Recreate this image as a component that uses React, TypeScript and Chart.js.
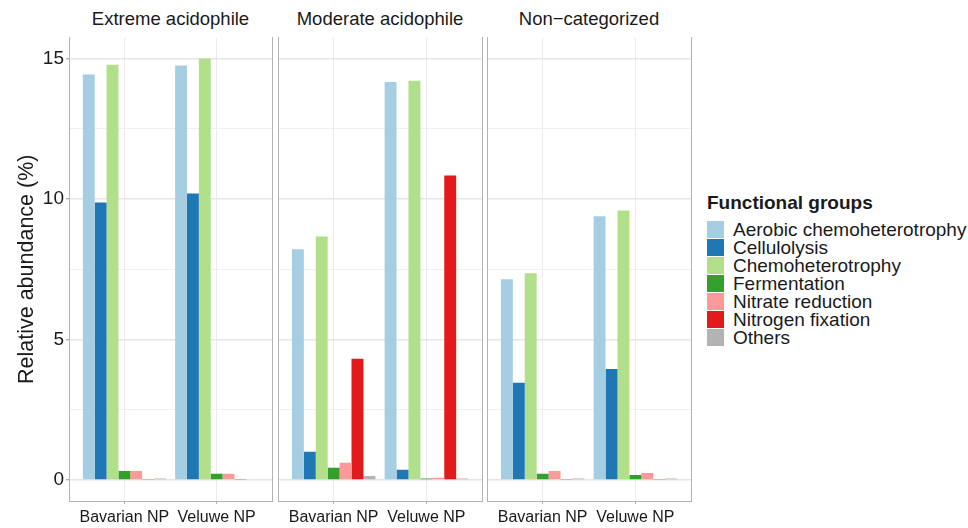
import React, { useEffect, useRef } from 'react';
import { Chart, registerables } from 'chart.js';

Chart.register(...registerables);

// ---------- data ----------
const sites = ['Bavarian NP', 'Veluwe NP'];
const panelTitles = ['Extreme acidophile', 'Moderate acidophile', 'Non\u2212categorized'];
const groups = [
  'Aerobic chemoheterotrophy',
  'Cellulolysis',
  'Chemoheterotrophy',
  'Fermentation',
  'Nitrate reduction',
  'Nitrogen fixation',
  'Others',
];
const groupColors = ['#A6CEE3', '#1F78B4', '#B2DF8A', '#33A02C', '#FB9A99', '#E31A1C', '#B3B3B3'];

// values in group order, per site
const extremeBavarian = [14.43, 9.88, 14.78, 0.32, 0.32, 0.03, 0.05];
const extremeVeluwe = [14.75, 10.2, 15.0, 0.22, 0.22, 0.03, 0.02];
const moderateBavarian = [8.21, 1.0, 8.67, 0.43, 0.61, 4.31, 0.14];
const moderateVeluwe = [14.17, 0.36, 14.21, 0.05, 0.08, 10.84, 0.05];
const noncatBavarian = [7.14, 3.46, 7.36, 0.22, 0.32, 0.03, 0.05];
const noncatVeluwe = [9.39, 3.95, 9.59, 0.18, 0.25, 0.03, 0.05];

const yMajorTicks = [0, 5, 10, 15];
const yMinorTicks = [2.5, 7.5, 12.5];
const yMin = -0.75;
const yMax = 15.75;

// ---------- styling ----------
const FONT = "'Liberation Sans', Arial, Helvetica, sans-serif";
const TEXT = '#1a1a1a';
const BORDER = '#b3b3b3';

const panelsLayout = [
  { canvasLeft: 0, canvasWidth: 276, plotLeft: 69, plotWidth: 203, showY: true },
  { canvasLeft: 274, canvasWidth: 212, plotLeft: 278, plotWidth: 204, showY: false },
  { canvasLeft: 483, canvasWidth: 212, plotLeft: 487, plotWidth: 204, showY: false },
];

const panelData = [
  [extremeBavarian, extremeVeluwe],
  [moderateBavarian, moderateVeluwe],
  [noncatBavarian, noncatVeluwe],
];

function isMajor(v: number) {
  return yMajorTicks.some((t) => Math.abs(t - v) < 1e-6);
}

function makeConfig(bav: number[], vel: number[], showY: boolean): any {
  const allYTicks = [...yMajorTicks, ...yMinorTicks].sort((a, b) => a - b);
  return {
    type: 'bar',
    data: {
      datasets: groups.map((g, i) => ({
        label: g,
        data: [
          { x: 1, y: bav[i] },
          { x: 2, y: vel[i] },
        ],
        backgroundColor: groupColors[i],
        borderWidth: 0,
        barPercentage: 1,
        categoryPercentage: 0.9,
      })),
    },
    options: {
      responsive: false,
      animation: false,
      devicePixelRatio: 1,
      layout: { padding: { top: 37.5, left: showY ? 0 : 4, right: 4, bottom: 0 } },
      plugins: {
        legend: { display: false },
        tooltip: { enabled: false },
        title: { display: false },
      },
      scales: {
        x: {
          type: 'linear',
          min: 0.4,
          max: 2.6,
          offset: false,
          afterBuildTicks: (s: any) => {
            s.ticks = sites.map((_, i) => ({ value: i + 1 }));
          },
          afterFit: (s: any) => {
            s.height = 27;
          },
          ticks: {
            callback: (v: any) => sites[Math.round(Number(v)) - 1] ?? '',
            font: { family: FONT, size: 16 },
            color: TEXT,
            padding: 4,
            maxRotation: 0,
            autoSkip: false,
          },
          grid: {
            offset: false,
            color: '#ebebeb',
            lineWidth: 1,
            tickLength: 3,
            tickColor: BORDER,
            drawTicks: true,
          },
          border: { display: true, color: BORDER, width: 1 },
        },
        y: {
          type: 'linear',
          position: 'left',
          min: yMin,
          max: yMax,
          afterBuildTicks: (s: any) => {
            s.ticks = allYTicks.map((v) => ({ value: v }));
          },
          afterFit: (s: any) => {
            s.width = showY ? 69 : 0;
          },
          title: {
            display: showY,
            text: 'Relative abundance (%)',
            font: { family: FONT, size: 21.5, lineHeight: 1 },
            color: TEXT,
            padding: { top: 16, bottom: 0 },
          },
          ticks: {
            display: showY,
            autoSkip: false,
            callback: (v: any) => (isMajor(Number(v)) ? String(v) : ''),
            font: { family: FONT, size: 19 },
            color: TEXT,
            padding: 2,
          },
          grid: {
            color: (c: any) => (isMajor(c.tick.value) ? '#e6e6e6' : '#f0f0f0'),
            lineWidth: (c: any) => (isMajor(c.tick.value) ? 1.4 : 1),
            drawTicks: showY,
            tickLength: 3,
            tickColor: (c: any) => (isMajor(c.tick.value) ? BORDER : 'rgba(0,0,0,0)'),
          },
          border: { display: true, color: BORDER, width: 1 },
        },
        yRight: {
          type: 'linear',
          position: 'right',
          min: yMin,
          max: yMax,
          display: true,
          afterFit: (s: any) => {
            s.width = 0;
          },
          ticks: { display: false },
          grid: { drawOnChartArea: false, drawTicks: false },
          border: { display: true, color: BORDER, width: 1 },
        },
      },
    },
  };
}

function Panel({ idx }: { idx: number }) {
  const ref = useRef<HTMLCanvasElement | null>(null);
  const lay = panelsLayout[idx];
  useEffect(() => {
    if (!ref.current) return;
    const [bav, vel] = panelData[idx];
    const chart = new Chart(ref.current, makeConfig(bav, vel, lay.showY));
    return () => chart.destroy();
  }, [idx]);
  return (
    <>
      <div
        style={{
          position: 'absolute',
          left: lay.plotLeft,
          width: lay.plotWidth,
          top: 9,
          height: 20,
          lineHeight: '20px',
          textAlign: 'center',
          fontFamily: FONT,
          fontSize: 18.5,
          color: TEXT,
          whiteSpace: 'nowrap',
        }}
      >
        {panelTitles[idx]}
      </div>
      <canvas
        ref={ref}
        width={lay.canvasWidth}
        height={528}
        style={{ position: 'absolute', left: lay.canvasLeft, top: 0, width: lay.canvasWidth, height: 528 }}
      />
    </>
  );
}

function Legend() {
  return (
    <>
      <div
        style={{
          position: 'absolute',
          left: 707,
          top: 193,
          lineHeight: '20px',
          fontFamily: FONT,
          fontSize: 19,
          fontWeight: 'bold',
          color: TEXT,
          whiteSpace: 'nowrap',
        }}
      >
        Functional groups
      </div>
      {groups.map((g, i) => (
        <React.Fragment key={g}>
          <div
            style={{
              position: 'absolute',
              left: 707,
              top: 221 + i * 18,
              width: 17,
              height: 17,
              background: groupColors[i],
            }}
          />
          <div
            style={{
              position: 'absolute',
              left: 733,
              top: 221 + i * 18,
              height: 17,
              lineHeight: '17px',
              fontFamily: FONT,
              fontSize: 19,
              color: TEXT,
              whiteSpace: 'nowrap',
            }}
          >
            {g}
          </div>
        </React.Fragment>
      ))}
    </>
  );
}

export default function App() {
  return (
    <div
      style={{
        position: 'absolute',
        left: 0,
        top: 0,
        width: 968,
        height: 528,
        background: '#ffffff',
        overflow: 'hidden',
      }}
    >
      {panelsLayout.map((_, i) => (
        <Panel key={i} idx={i} />
      ))}
      <Legend />
    </div>
  );
}
